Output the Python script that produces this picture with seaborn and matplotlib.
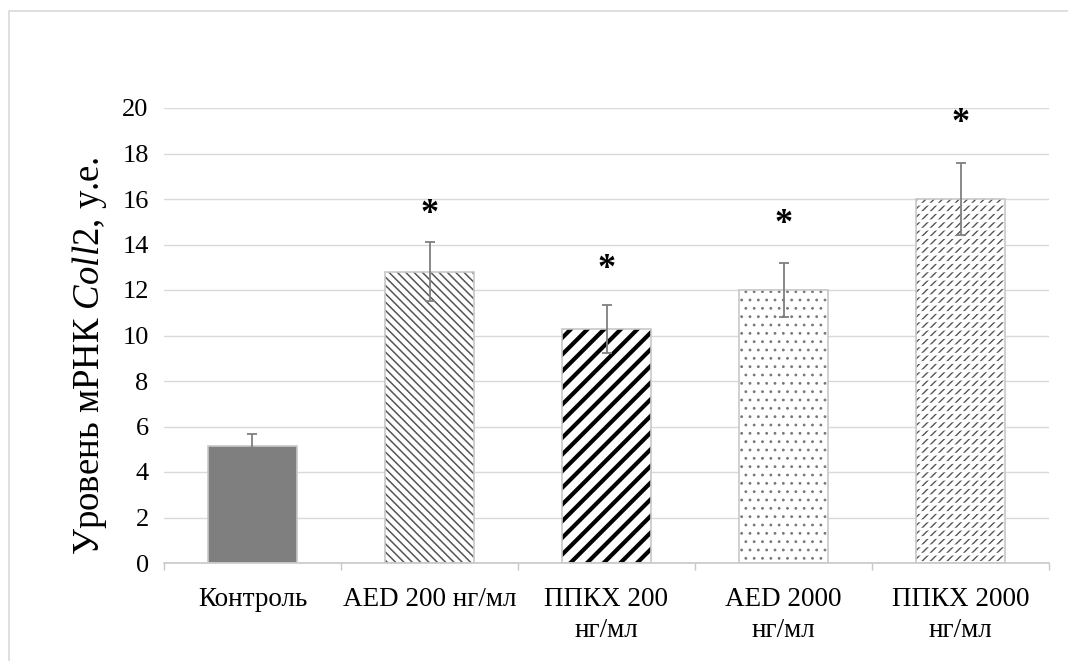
import matplotlib
matplotlib.use("Agg")
import matplotlib.pyplot as plt
import seaborn as sns
import numpy as np
from matplotlib.lines import Line2D

categories = ["Контроль", "AED 200 нг/мл", "ППКХ 200\nнг/мл", "AED 2000\nнг/мл", "ППКХ 2000\nнг/мл"]
values = [5.15, 12.8, 10.3, 12.0, 16.0]
errors = [0.5, 1.3, 1.05, 1.2, 1.6]
star_y = [None, 15.3, 12.9, 14.9, 19.3]
yticks = [0, 2, 4, 6, 8, 10, 12, 14, 16, 18, 20]
ylabel = "Уровень мРНК $\\mathit{Coll2}$, у.е."

sns.set_theme(style="white")
plt.rcParams['font.family'] = ['Liberation Serif', 'DejaVu Serif']
plt.rcParams['mathtext.fontset'] = 'custom'
plt.rcParams['mathtext.it'] = 'Liberation Serif:italic'
plt.rcParams['mathtext.rm'] = 'Liberation Serif'

fig = plt.figure(figsize=(10.68, 6.61), dpi=100)
fig.patch.set_edgecolor('white')
fig.patch.set_linewidth(0)
ax = fig.add_axes([164/1068, 1-563/661, (1049-164)/1068, (563-108)/661])

# outer frame (top and left edges only visible)
xl, yt = 8.5/1068, 1-10.5/661
fig.lines.append(Line2D([xl, xl, 1.0], [0.0, yt, yt], transform=fig.transFigure,
                        color='#d9d9d9', lw=1.2))

sns.barplot(x=categories, y=values, ax=ax, width=0.5, errorbar=None, color='#808080', zorder=3)

styles = [
    dict(fc='#7f7f7f', hatch=None, hc='#7f7f7f', hlw=1.0),
    dict(fc='white', hatch='\\\\\\\\', hc='#555555', hlw=1.1),
    dict(fc='white', hatch='//', hc='black', hlw=3.0),
    dict(fc='white', hatch='..', hc='#777777', hlw=0.8),
    dict(fc='white', hatch='////', hc='#555555', hlw=1.0),
]
for p, st in zip(ax.patches, styles):
    p.set_facecolor(st['fc'])
    p.set_edgecolor(st['hc'])
    p.set_linewidth(0)
    if st['hatch']:
        p.set_hatch(st['hatch'])
        try:
            p.set_hatch_linewidth(st['hlw'])
        except Exception:
            pass

x = np.arange(len(categories))
# white horizontal gaps to make dashed pattern in last bar
gap = ax.bar(x[4:], values[4:], width=0.5, fill=False, edgecolor='white', linewidth=0, hatch='--', zorder=4)
for p in gap:
    try:
        p.set_hatch_linewidth(2.0)
    except Exception:
        pass
# borders
ax.bar(x, values, width=0.5, fill=False, edgecolor='#c8c8c8', linewidth=1.2, zorder=5)

ax.errorbar(x, values, yerr=errors, fmt='none', ecolor='#7f7f7f', elinewidth=1.3,
            capsize=3.5, capthick=1.3, zorder=6)

for i, sy in enumerate(star_y):
    if sy is not None:
        ax.text(x[i], sy, '*', ha='center', va='center', fontsize=26, fontweight='bold', color='black', zorder=7)

ax.set_ylim(0, 20)
ax.set_xlim(-0.5, 4.5)
ax.set_yticks(yticks)
ax.set_yticklabels([str(t) for t in yticks], fontsize=19)
ax.yaxis.grid(True, color='#d9d9d9', lw=1.0)
ax.set_axisbelow(True)
for s in ['left', 'right', 'top']:
    ax.spines[s].set_visible(False)
ax.spines['bottom'].set_color('#c8c8c8')
ax.spines['bottom'].set_linewidth(1.2)
ax.spines['bottom'].set_zorder(8)
ax.tick_params(axis='y', length=0, pad=11, colors='black')
ax.set_xticks(x)
ax.set_xticklabels(categories, fontsize=19.5, linespacing=1.35, va='top')
ax.set_xticks(np.arange(-0.5, 5, 1), minor=True)
ax.tick_params(axis='x', which='major', length=0, pad=17, colors='black')
ax.tick_params(axis='x', which='minor', length=5, width=1.0, color='#c8c8c8', bottom=True)
ax.set_xlabel('')
ax.set_ylabel(ylabel, fontsize=26.5, color='black')
ax.yaxis.set_label_coords(-0.062, 0.455)

fig.savefig('out.png', dpi=100, facecolor='white', edgecolor='white')
